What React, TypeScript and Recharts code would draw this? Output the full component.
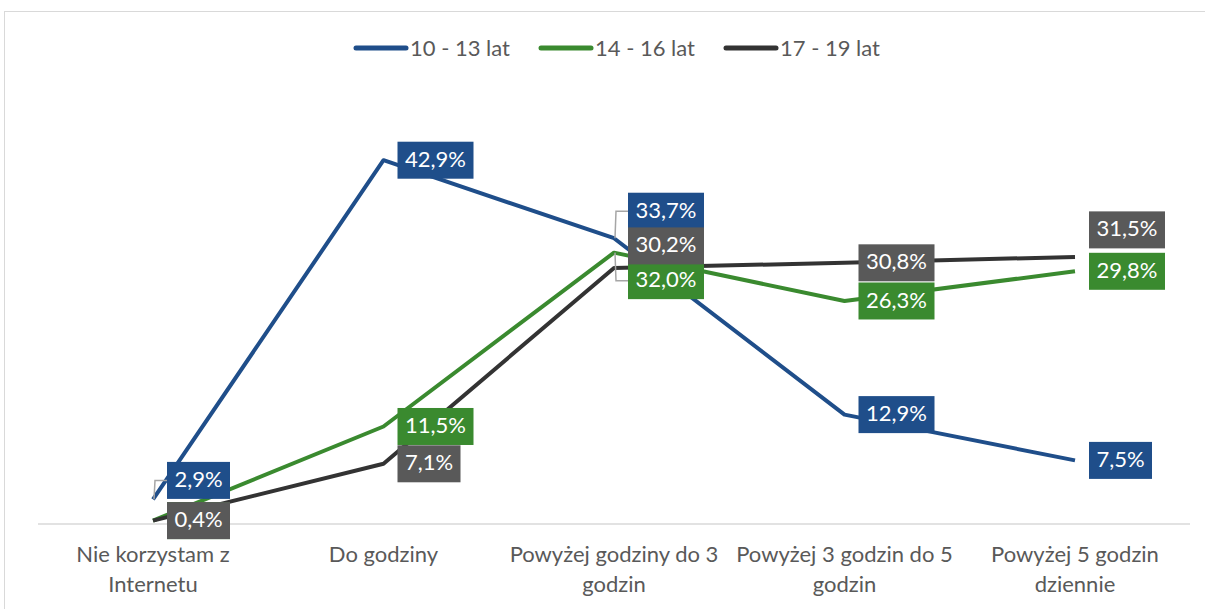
import React from 'react';
import { LineChart, Line, XAxis, YAxis, Legend } from 'recharts';

const categories = [
  'Nie korzystam z Internetu',
  'Do godziny',
  'Powyżej godziny do 3 godzin',
  'Powyżej 3 godzin do 5 godzin',
  'Powyżej 5 godzin dziennie',
];
const tickLines: string[][] = [
  ['Nie korzystam z', 'Internetu'],
  ['Do godziny'],
  ['Powyżej godziny do 3', 'godzin'],
  ['Powyżej 3 godzin do 5', 'godzin'],
  ['Powyżej 5 godzin', 'dziennie'],
];
const s1013 = [2.9, 42.9, 33.7, 12.9, 7.5];
const s1416 = [0.4, 11.5, 32.0, 26.3, 29.8];
const s1719 = [0.4, 7.1, 30.2, 30.8, 31.5];

const seriesNames = ['10 - 13 lat', '14 - 16 lat', '17 - 19 lat'];
const lineColors = ['#1F4E8A', '#3A8A2F', '#333333'];
const boxColors = ['#1F4E8A', '#3A8A2F', '#595959'];
const keys = ['a', 'b', 'c'];

// label vertical shifts and leader lines (layout, not data)
const labelShift: number[][] = [
  [-19, 0, -27, 0, 0],
  [0, 0, 28, 0, 0],
  [0, 0, -22, 0, -27],
];
const leader: boolean[][] = [
  [true, false, true, false, false],
  [false, false, true, false, false],
  [false, false, false, false, false],
];

const data = categories.map((c, i) => ({ name: c, a: s1013[i], b: s1416[i], c: s1719[i] }));

const FONT = "Lato, 'Open Sans', sans-serif";

const fmt = (v: number) => v.toFixed(1).replace('.', ',') + '%';

const makeLabel = (si: number) => (props: any) => {
  const { x, y, value, index } = props;
  if (x == null || y == null) return null;
  const text = fmt(Number(value));
  const w = text.length >= 5 ? 76 : 63;
  const h = 37;
  const dy = labelShift[si][index] || 0;
  const left = x + 14;
  const cy = y + dy;
  return (
    <g key={`lbl-${si}-${index}`}>
      {leader[si][index] && (
        <polyline
          points={`${x + 1},${y} ${x + 2},${cy} ${left},${cy}`}
          fill="none"
          stroke="#A6A6A6"
          strokeWidth={1.5}
        />
      )}
      <rect x={left} y={cy - h / 2} width={w} height={h} fill={boxColors[si]} />
      <text
        x={left + w / 2}
        y={cy + 1}
        textAnchor="middle"
        dominantBaseline="middle"
        fill="#FFFFFF"
        fontSize={22}
        fontFamily={FONT}
      >
        {text}
      </text>
    </g>
  );
};

const CustomTick = (props: any) => {
  const { x, y, index } = props;
  const lines = tickLines[index] || [];
  return (
    <g>
      {lines.map((l, i) => (
        <text
          key={i}
          x={x}
          y={y + 30 + i * 30}
          textAnchor="middle"
          fill="#595959"
          fontSize={22}
          fontFamily={FONT}
        >
          {l}
        </text>
      ))}
    </g>
  );
};

const LegendContent = () => (
  <div style={{ display: 'flex', justifyContent: 'center', paddingLeft: 28, fontFamily: FONT, fontSize: 22, color: '#595959' }}>
    {seriesNames.map((n, i) => (
      <div key={n} style={{ display: 'flex', alignItems: 'center', marginLeft: i === 0 ? 0 : 28 }}>
        <svg width={56} height={10} style={{ marginRight: 1 }}>
          <line x1={3} y1={5} x2={53} y2={5} stroke={lineColors[i]} strokeWidth={5} strokeLinecap="round" />
        </svg>
        <span>{n}</span>
      </div>
    ))}
  </div>
);

export default function App() {
  return (
    <div style={{ position: 'absolute', left: 0, top: 0, width: 1205, height: 609, overflow: 'hidden', background: '#fff' }}>
      <div style={{ position: 'absolute', left: 4, top: 11, width: 1220, height: 640, border: '1px solid #D9D9D9' }} />
      <div style={{ position: 'absolute', left: 0, top: 0 }}>
        <LineChart width={1205} height={609} data={data} margin={{ top: 100, right: 15, bottom: 55, left: 38 }}>
          <XAxis
            dataKey="name"
            height={30}
            padding={{ left: 115, right: 115 }}
            axisLine={{ stroke: '#D9D9D9', strokeWidth: 1.5 }}
            tickLine={false}
            tick={<CustomTick />}
            interval={0}
          />
          <YAxis hide domain={[0, 50]} />
          <Legend
            verticalAlign="middle"
            align="center"
            content={<LegendContent />}
            wrapperStyle={{ position: 'absolute', top: 34, left: 0, width: 1205 }}
          />
          {keys.map((k, i) => (
            <Line
              key={k}
              dataKey={k}
              name={seriesNames[i]}
              stroke={lineColors[i]}
              strokeWidth={4}
              dot={false}
              activeDot={false}
              isAnimationActive={false}
              strokeLinejoin="round"
            />
          ))}
          {keys.map((k, i) => (
            <Line
              key={'lbl' + k}
              dataKey={k}
              stroke="none"
              strokeWidth={0}
              dot={false}
              activeDot={false}
              legendType="none"
              isAnimationActive={false}
              label={makeLabel(i)}
            />
          ))}
        </LineChart>
      </div>
    </div>
  );
}
